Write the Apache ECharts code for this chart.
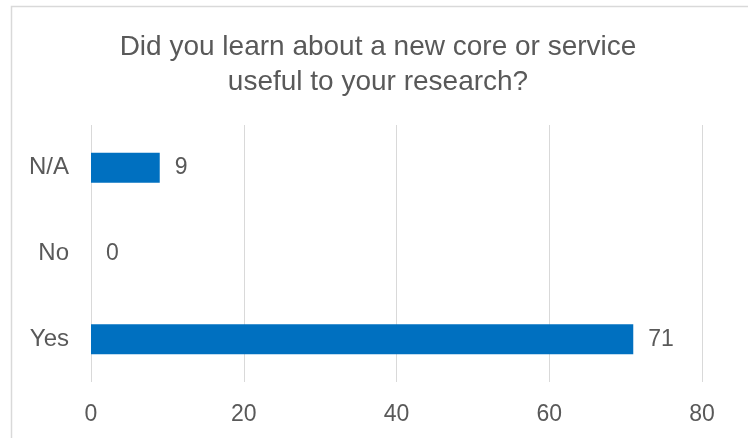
<!DOCTYPE html>
<html>
<head>
<meta charset="utf-8">
<style>
    html, body { margin: 0; padding: 0; background: #fff; }
    #chart { width: 748px; height: 438px; }
</style>
<script src="https://cdn.jsdelivr.net/npm/echarts@6/dist/echarts.min.js"></script>
</head>
<body>
<div id="chart"></div>
<script>
// 数据
const categories = ["Yes", "No", "N/A"];
const answers = [71, 0, 9];
const xTicks = [0, 80, 20]; // min, max, interval

const textColor = "#595959";
const fontFamily = "'Liberation Sans', Arial, sans-serif";

const ecIns = echarts.init(document.getElementById("chart"));

const option = {
    backgroundColor: "#fff",
    animation: false,
    title: {
        text: "Did you learn about a new core or service\nuseful to your research?",
        left: 378,
        top: 30,
        padding: 0,
        textAlign: "center",
        textStyle: {
            color: textColor,
            fontFamily: fontFamily,
            fontWeight: "normal",
            fontSize: 28,
            lineHeight: 35
        }
    },
    grid: {
        left: 91,
        right: 46,
        top: 125,
        bottom: 56
    },
    xAxis: {
        type: "value",
        min: xTicks[0],
        max: xTicks[1],
        interval: xTicks[2],
        axisLine: { show: false },
        axisTick: { show: false },
        axisLabel: {
            color: textColor,
            fontFamily: fontFamily,
            fontSize: 23,
            margin: 21
        },
        splitLine: {
            lineStyle: { color: "#D9D9D9", width: 1 }
        }
    },
    yAxis: {
        type: "category",
        data: categories,
        axisLine: { show: false },
        axisTick: { show: false },
        axisLabel: {
            color: textColor,
            fontFamily: fontFamily,
            fontSize: 24,
            margin: 22
        }
    },
    series: [
        {
            type: "bar",
            data: answers,
            barWidth: 30,
            itemStyle: { color: "#0070C0" },
            label: {
                show: true,
                position: "right",
                distance: 15,
                color: textColor,
                fontFamily: fontFamily,
                fontSize: 23
            }
        }
    ],
    // 外框
    graphic: [
        {
            type: "rect",
            shape: { x: 11.5, y: 6.5, width: 800, height: 500 },
            style: { fill: "none", stroke: "#D9D9D9", lineWidth: 1.5 },
            silent: true
        }
    ]
};

ecIns.setOption(option);
window.addEventListener("resize", () => ecIns.resize());
</script>
</body>
</html>
